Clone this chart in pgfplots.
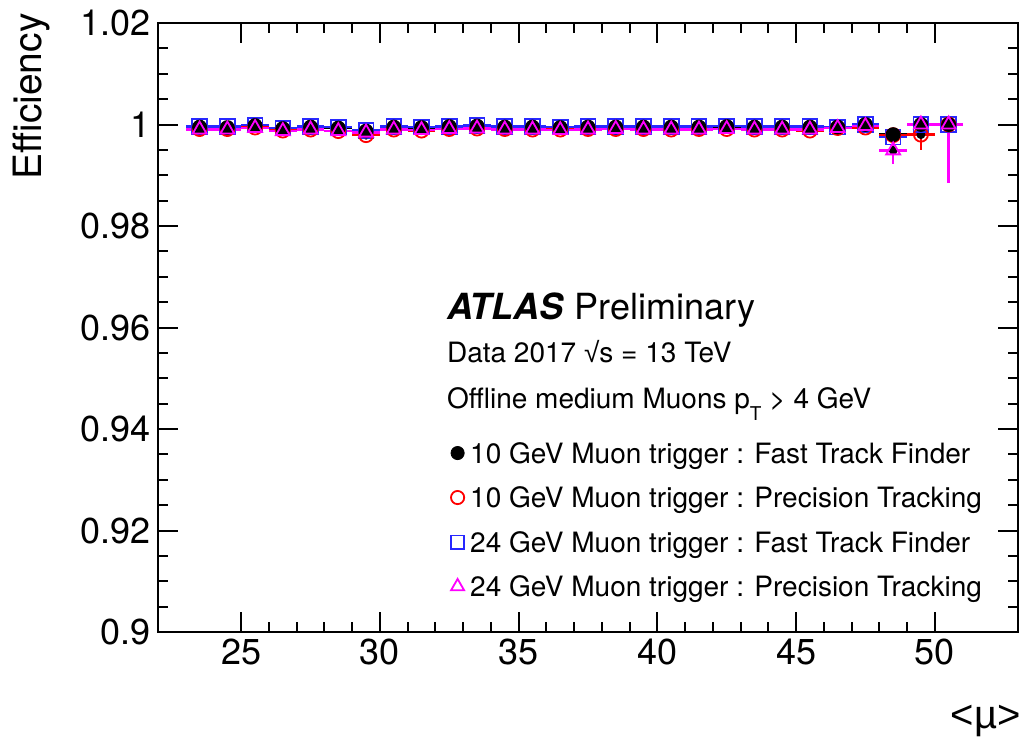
\documentclass[border=0pt]{standalone}
\usepackage{fontspec}
\setmainfont{TeX Gyre Heros}
\newfontfamily\symfont{Liberation Sans}
\usepackage{pgfplots}
\usepackage{pgfplotstable}
\pgfplotsset{compat=1.18}

\definecolor{rootred}{RGB}{255,0,0}
\definecolor{rootblue}{RGB}{40,40,255}
\definecolor{rootmagenta}{RGB}{255,0,255}

% efficiency vs <mu>, bins of width 1; columns: bin centre, value, +err, -err
\pgfplotstableread{
x    y       ep      em
23.5 0.9995  0.0001  0.0001
24.5 0.9994  0.0001  0.0001
25.5 0.9998  0.0001  0.0001
26.5 0.9992  0.0001  0.0001
27.5 0.9995  0.0001  0.0001
28.5 0.9993  0.0001  0.0001
29.5 0.9987  0.0002  0.0002
30.5 0.9995  0.0001  0.0001
31.5 0.9994  0.0001  0.0001
32.5 0.9996  0.0001  0.0001
33.5 0.9997  0.0001  0.0001
34.5 0.9995  0.0001  0.0001
35.5 0.9995  0.0001  0.0001
36.5 0.9994  0.0001  0.0001
37.5 0.9995  0.0001  0.0001
38.5 0.9995  0.0001  0.0001
39.5 0.9995  0.0001  0.0001
40.5 0.9995  0.0001  0.0001
41.5 0.9995  0.0001  0.0001
42.5 0.9996  0.0001  0.0001
43.5 0.9995  0.0001  0.0001
44.5 0.9995  0.0001  0.0001
45.5 0.9995  0.0001  0.0001
46.5 0.9995  0.0002  0.0002
47.5 1.0000  0.0000  0.0003
48.5 0.9980  0.0004  0.0004
49.5 1.0000  0.0000  0.0005
50.5 1.0000  0.0000  0.0040
}\tenFTF

\pgfplotstableread{
x    y       ep      em
23.5 0.9991  0.0001  0.0001
24.5 0.9991  0.0001  0.0001
25.5 0.9994  0.0001  0.0001
26.5 0.9988  0.0001  0.0001
27.5 0.9990  0.0001  0.0001
28.5 0.9987  0.0001  0.0001
29.5 0.9979  0.0002  0.0002
30.5 0.9990  0.0001  0.0001
31.5 0.9988  0.0001  0.0001
32.5 0.9991  0.0001  0.0001
33.5 0.9992  0.0001  0.0001
34.5 0.9991  0.0001  0.0001
35.5 0.9990  0.0001  0.0001
36.5 0.9990  0.0001  0.0001
37.5 0.9991  0.0001  0.0001
38.5 0.9991  0.0001  0.0001
39.5 0.9991  0.0001  0.0001
40.5 0.9990  0.0001  0.0001
41.5 0.9991  0.0001  0.0001
42.5 0.9991  0.0001  0.0001
43.5 0.9990  0.0001  0.0001
44.5 0.9990  0.0001  0.0001
45.5 0.9988  0.0001  0.0001
46.5 0.9993  0.0002  0.0002
47.5 0.9994  0.0003  0.0003
48.5 0.9979  0.0004  0.0004
49.5 0.9980  0.0018  0.0030
50.5 1.0000  0.0000  0.0050
}\tenPT

\pgfplotstableread{
x    y       ep      em
23.5 0.9996  0.0001  0.0001
24.5 0.9996  0.0001  0.0001
25.5 0.9999  0.0001  0.0001
26.5 0.9993  0.0001  0.0001
27.5 0.9996  0.0001  0.0001
28.5 0.9995  0.0001  0.0001
29.5 0.9988  0.0002  0.0002
30.5 0.9996  0.0001  0.0001
31.5 0.9995  0.0001  0.0001
32.5 0.9996  0.0001  0.0001
33.5 0.9998  0.0001  0.0001
34.5 0.9996  0.0001  0.0001
35.5 0.9996  0.0001  0.0001
36.5 0.9995  0.0001  0.0001
37.5 0.9996  0.0001  0.0001
38.5 0.9996  0.0001  0.0001
39.5 0.9996  0.0001  0.0001
40.5 0.9996  0.0001  0.0001
41.5 0.9996  0.0001  0.0001
42.5 0.9997  0.0001  0.0001
43.5 0.9996  0.0001  0.0001
44.5 0.9996  0.0001  0.0001
45.5 0.9996  0.0001  0.0001
46.5 0.9995  0.0002  0.0002
47.5 1.0000  0.0000  0.0003
48.5 0.9975  0.0005  0.0005
49.5 1.0000  0.0000  0.0005
50.5 1.0000  0.0000  0.0040
}\twentyfourFTF

\pgfplotstableread{
x    y       ep      em
23.5 0.9990  0.0001  0.0001
24.5 0.9990  0.0001  0.0001
25.5 0.9993  0.0001  0.0001
26.5 0.9987  0.0001  0.0001
27.5 0.9990  0.0001  0.0001
28.5 0.9987  0.0001  0.0001
29.5 0.9984  0.0002  0.0002
30.5 0.9990  0.0001  0.0001
31.5 0.9989  0.0001  0.0001
32.5 0.9991  0.0001  0.0001
33.5 0.9992  0.0001  0.0001
34.5 0.9990  0.0001  0.0001
35.5 0.9990  0.0001  0.0001
36.5 0.9989  0.0001  0.0001
37.5 0.9990  0.0001  0.0001
38.5 0.9991  0.0001  0.0001
39.5 0.9990  0.0001  0.0001
40.5 0.9990  0.0001  0.0001
41.5 0.9990  0.0001  0.0001
42.5 0.9991  0.0001  0.0001
43.5 0.9990  0.0001  0.0001
44.5 0.9990  0.0001  0.0001
45.5 0.9990  0.0001  0.0001
46.5 0.9993  0.0002  0.0002
47.5 0.9997  0.0003  0.0003
48.5 0.9949  0.0016  0.0026
49.5 1.0000  0.0000  0.0005
50.5 1.0000  0.0000  0.0115
}\twentyfourPT

\begin{document}
\begin{tikzpicture}
\begin{axis}[
  scale only axis,
  width=430pt, height=304.5pt,
  xmin=22, xmax=53, ymin=0.9, ymax=1.02,
  xtick={25,30,35,40,45,50}, minor x tick num=4,
  ytick={0.9,0.92,0.94,0.96,0.98,1,1.02},
  yticklabels={0.9,0.92,0.94,0.96,0.98,1,1.02},
  minor y tick num=3,
  /pgf/number format/assume math mode=true,
  tick label style={font=\fontsize{18}{20}\selectfont},
  axis line style={line width=1pt},
  tick style={line width=1pt, black},
  major tick length=10pt, minor tick length=5pt,
  tick align=inside,
  xtick pos=both, ytick pos=both,
  ylabel={Efficiency},
  ylabel style={at={(rel axis cs:-0.1256,1.0164)}, anchor=south east,
                inner sep=0pt, font=\fontsize{19.5}{21}\selectfont},
  xlabel={{\symfont <µ>}},
  xlabel style={at={(rel axis cs:1.0035,-0.1199)}, anchor=north east,
                inner sep=0pt, font=\fontsize{20}{22}\selectfont},
  legend style={at={(rel axis cs:0.3407,0.3103)}, anchor=north west,
                draw=none, fill=none, inner sep=0pt, outer sep=0pt,
                row sep=9.25pt, column sep=0pt,
                font=\fontsize{14}{16}\selectfont,
                nodes={inner xsep=3pt, inner ysep=0pt, text height=10pt, text depth=3pt}},
  legend cell align=left,
  legend image code/.code={\draw[#1] plot coordinates {(0pt,1.5pt)};},
  clip=false,
]

% legend entries
\addlegendimage{only marks, mark=*, mark size=3.3pt, black}
\addlegendentry{10 GeV Muon trigger : Fast Track Finder}
\addlegendimage{only marks, mark=o, mark size=3.3pt, rootred, mark options={line width=0.9pt}}
\addlegendentry{10 GeV Muon trigger : Precision Tracking}
\addlegendimage{only marks, mark=square, mark size=3.3pt, rootblue, mark options={line width=0.9pt}}
\addlegendentry{24 GeV Muon trigger : Fast Track Finder}
\addlegendimage{only marks, mark=triangle, mark size=3.8pt, rootmagenta, mark options={line width=0.9pt}}
\addlegendentry{24 GeV Muon trigger : Precision Tracking}

% error bars (bin width and statistical uncertainty)
\pgfplotsset{
  errs/.style={only marks, mark=none, forget plot,
    error bars/.cd, x dir=both, x fixed=0.5, y dir=both, y explicit,
    error mark=none, error bar style={draw=#1, line width=1.2pt, solid}},
}
\addplot[errs=black] table[x=x, y=y, y error plus=ep, y error minus=em] {\tenFTF};
\addplot[errs=rootred] table[x=x, y=y, y error plus=ep, y error minus=em] {\tenPT};
\addplot[errs=rootblue] table[x=x, y=y, y error plus=ep, y error minus=em] {\twentyfourFTF};
\addplot[errs=rootmagenta] table[x=x, y=y, y error plus=ep, y error minus=em] {\twentyfourPT};

% markers
\addplot[only marks, forget plot, mark=square, mark size=3.7pt, rootblue, mark options={line width=0.9pt}] table[x=x, y=y] {\twentyfourFTF};
\addplot[only marks, forget plot, mark=o, mark size=3.5pt, rootred, mark options={line width=0.9pt}] table[x=x, y=y] {\tenPT};
\addplot[only marks, forget plot, mark=*, mark size=3.5pt, black] table[x=x, y=y] {\tenFTF};
\addplot[only marks, forget plot, mark=triangle, mark size=4pt, rootmagenta, mark options={line width=0.9pt}] table[x=x, y=y] {\twentyfourPT};

% labels
\node[anchor=base west, inner sep=0pt, font=\fontsize{18}{20}\selectfont]
  at (rel axis cs:0.3357,0.5135) {\textbf{\textit{ATLAS}} Preliminary};
\node[anchor=base west, inner sep=0pt, font=\fontsize{14}{16}\selectfont]
  at (rel axis cs:0.3357,0.4422) {Data 2017 {\symfont √}s = 13 TeV};
\node[anchor=base west, inner sep=0pt, font=\fontsize{14}{16}\selectfont]
  at (rel axis cs:0.3357,0.3678) {Offline medium Muons p\raisebox{-6pt}{\fontsize{9.5}{10}\selectfont T} > 4 GeV};
\end{axis}
\pgfresetboundingbox
\useasboundingbox (-79pt,-52pt) rectangle (431.5pt,316pt);
\end{tikzpicture}
\end{document}
